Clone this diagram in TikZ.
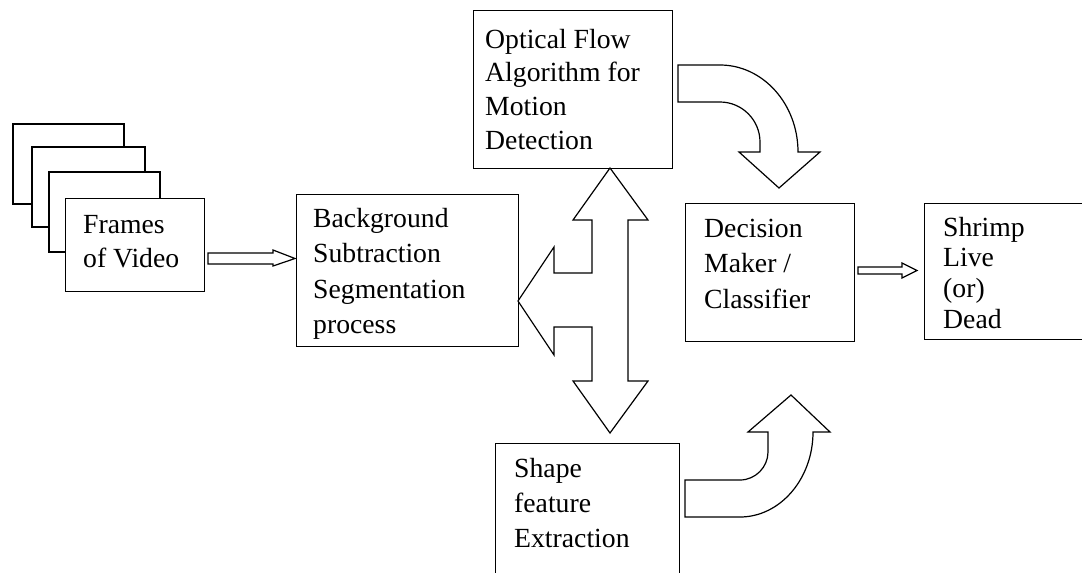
\documentclass[tikz,border=0pt]{standalone}
\usepackage{fontspec}
\setmainfont{Liberation Serif}
\newcommand\boxlines[2]{\parbox[t]{7cm}{\fontsize{27.7}{#1}\selectfont\raggedright #2}}
\begin{document}
\begin{tikzpicture}[x=1pt,y=-1pt,
  frame/.style={draw, line width=1.2pt, fill=white},
  blk/.style={draw, line width=1.2pt, fill=white, line join=miter},
  lbl/.style={anchor=base west, inner sep=0pt}]
\path[use as bounding box, clip] (0,0) rectangle (1082,573);

% stacked video frames
\draw[frame] (13,124) rectangle (124,204);
\draw[frame] (32,147) rectangle (145,227);
\draw[frame] (49,172) rectangle (160,252);
\node[frame, anchor=north west, minimum width=139pt, minimum height=93pt, inner sep=0pt] (frames) at (65,198) {};
\node[lbl] (framestxt) at (83,233) {\boxlines{34pt}{Frames\\of Video}};

% process boxes
\node[frame, anchor=north west, minimum width=222pt, minimum height=152pt, inner sep=0pt] (bg) at (296,194) {};
\node[lbl] (bgtxt) at (313,227) {\boxlines{35.5pt}{Background\\Subtraction\\Segmentation\\process}};

\node[frame, anchor=north west, minimum width=199pt, minimum height=158pt, inner sep=0pt] (flow) at (473,10) {};
\node[lbl] (flowtxt) at (485,48) {\boxlines{33.7pt}{Optical Flow\\Algorithm for\\Motion\\Detection}};

\node[frame, anchor=north west, minimum width=169pt, minimum height=138pt, inner sep=0pt] (dec) at (685,203) {};
\node[lbl] (dectxt) at (704,237) {\boxlines{35.5pt}{Decision\\Maker /\\Classifier}};

\node[frame, anchor=north west, minimum width=170pt, minimum height=136pt, inner sep=0pt] (res) at (924,203) {};
\node[lbl] (restxt) at (943,236) {\boxlines{30.7pt}{Shrimp\\Live\\(or)\\Dead}};

\node[frame, anchor=north west, minimum width=184pt, minimum height=150pt, inner sep=0pt] (shape) at (495,443) {};
\node[lbl] (shapetxt) at (514,477) {\boxlines{35pt}{Shape\\feature\\Extraction}};

% thin hollow arrows
\draw[blk] (208,253) -- (273,253) -- (273,250) -- (295,258.5) -- (273,266) -- (273,264) -- (208,264) -- cycle;
\draw[blk] (858,267) -- (902,267) -- (902,263) -- (917,270.5) -- (902,278) -- (902,274) -- (858,274) -- cycle;

% three-way block arrow between segmentation, optical flow and shape features
\draw[blk] (610,168) -- (648,220) -- (628,220) -- (628,381) -- (648,381) -- (610,433)
  -- (573,381) -- (592,381) -- (592,327) -- (554,327) -- (554,355) -- (518,301)
  -- (554,247) -- (554,273) -- (592,273) -- (592,220) -- (573,220) -- cycle;

% curved arrow from optical flow to the decision maker
\draw[blk] (678,65) -- (720,65) .. controls (763,65) and (798,104) .. (798,152)
  -- (820,152) -- (779,188) -- (739,152) -- (760,152) -- (760,142)
  .. controls (760,120) and (742,102) .. (720,102) -- (678,102) -- cycle;

% curved arrow from shape features to the decision maker
\draw[blk] (685,517) -- (740,517) .. controls (780,517) and (813,479) .. (813,432)
  -- (830,432) -- (791,395) -- (748,432) -- (768,432) -- (768,452)
  .. controls (768,467) and (755.5,480) .. (740,480) -- (685,480) -- cycle;
\end{tikzpicture}
\end{document}
